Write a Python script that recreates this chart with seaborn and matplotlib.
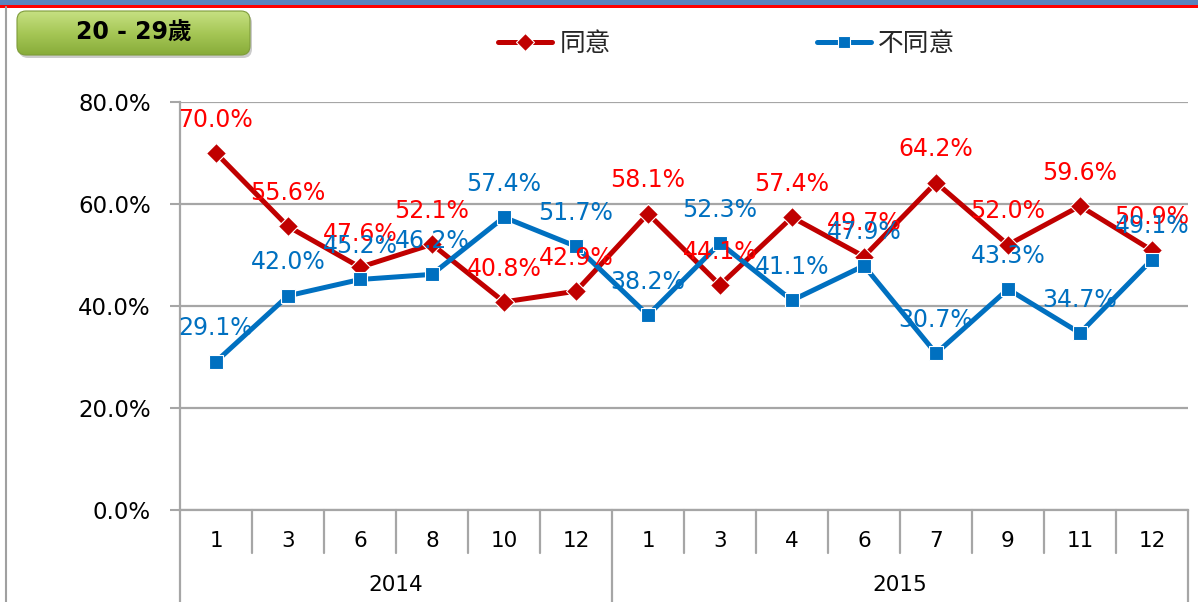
import numpy as np
import pandas as pd
import matplotlib
matplotlib.use("Agg")
import matplotlib.pyplot as plt
from matplotlib.patches import FancyBboxPatch, Rectangle
from matplotlib.lines import Line2D
import matplotlib.transforms as mtransforms
import seaborn as sns

# ---- data -------------------------------------------------------------
months = ["1", "3", "6", "8", "10", "12", "1", "3", "4", "6", "7", "9", "11", "12"]
years = ["2014", "2015"]
year_counts = [6, 8]
agree = [70.0, 55.6, 47.6, 52.1, 40.8, 42.9, 58.1, 44.1, 57.4, 49.7, 64.2, 52.0, 59.6, 50.9]
disagree = [29.1, 42.0, 45.2, 46.2, 57.4, 51.7, 38.2, 52.3, 41.1, 47.9, 30.7, 43.3, 34.7, 49.1]
series_names = ["同意", "不同意"]
y_ticks = [0, 20, 40, 60, 80]
title = "20 - 29歲"

# ---- style ------------------------------------------------------------
sns.set_theme(style="white")
plt.rcParams["font.family"] = ["DejaVu Sans", "Noto Sans CJK TC"]

line_colors = {"同意": "#C00000", "不同意": "#0070C0"}
label_colors = {"同意": "#FF0000", "不同意": "#0070C0"}
grid_gray = "#A6A6A6"

W, H = 1198, 602
fig = plt.figure(figsize=(W / 100, H / 100), dpi=100)
fig.patch.set_facecolor("white")

# plot area in pixels: x 180..1188, y 102..510
L, R, T, B = 180, 1188, 102, 510
ax = fig.add_axes([L / W, 1 - B / H, (R - L) / W, (B - T) / H])

n = len(months)
idx = np.arange(n)
df = pd.DataFrame({
    "idx": np.concatenate([idx, idx]),
    "value": agree + disagree,
    "series": [series_names[0]] * n + [series_names[1]] * n,
})

sns.lineplot(
    data=df, x="idx", y="value", hue="series", style="series",
    hue_order=series_names, style_order=series_names,
    palette=line_colors, markers={"同意": "D", "不同意": "s"}, dashes=False,
    linewidth=3.6, markersize=10.5, markeredgewidth=0.8, sort=False, ax=ax,
)
handles, labels = ax.get_legend_handles_labels()
ax.get_legend().remove()

ax.set_xlim(-0.5, n - 0.5)
ax.set_ylim(0, 80)
ax.set_yticks(y_ticks)
ax.set_yticklabels([f"{v:.1f}%" for v in y_ticks], fontsize=16.5, color="black")
ax.set_xticks([])
ax.set_xlabel("")
ax.set_ylabel("")
ax.tick_params(axis="y", length=7, width=1.5, color=grid_gray, pad=14, left=True)

ax.grid(axis="y", color=grid_gray, linewidth=1.6)
ax.set_axisbelow(True)
for side in ["top", "right"]:
    ax.spines[side].set_visible(False)
for side in ["left", "bottom"]:
    ax.spines[side].set_color(grid_gray)
    ax.spines[side].set_linewidth(1.6)

# ---- data labels ------------------------------------------------------
for name, vals in zip(series_names, [agree, disagree]):
    for i, v in enumerate(vals):
        ax.annotate(f"{v:.1f}%", xy=(i, v), xytext=(0, 24), textcoords="offset points",
                    ha="center", va="center", fontsize=17, color=label_colors[name],
                    zorder=5)

# ---- two-level category axis -------------------------------------------
trans = mtransforms.blended_transform_factory(ax.transData, ax.transAxes)
h_px = B - T
short_y = -43 / h_px
long_y = -92 / h_px
group_edges = np.cumsum([0] + year_counts) - 0.5
for b in np.arange(n + 1) - 0.5:
    y_end = long_y if np.any(np.isclose(b, group_edges)) else short_y
    ax.add_line(Line2D([b, b], [0, y_end], transform=trans, color=grid_gray,
                       linewidth=1.6, clip_on=False))
for i, m in enumerate(months):
    ax.text(i, -31 / h_px, m, transform=trans, ha="center", va="center",
            fontsize=15.5, color="black")
for k, yr in enumerate(years):
    center = (group_edges[k] + group_edges[k + 1]) / 2
    ax.text(center, -75 / h_px, yr, transform=trans, ha="center", va="center",
            fontsize=15.5, color="black")

# ---- legend -----------------------------------------------------------
for hd in handles:
    hd.set_linewidth(3.6)
    hd.set_markersize(9)
fig.legend(handles, labels, loc="center left", bbox_to_anchor=(498 / W, 1 - 44 / H),
           ncol=2, frameon=False, handlelength=2.1, handletextpad=0.3,
           columnspacing=8.0, borderpad=0, borderaxespad=0,
           prop={"family": ["Noto Sans CJK TC"], "size": 18.5})

# ---- frame decorations ------------------------------------------------
deco = fig.add_axes([0, 0, 1, 1], zorder=-1)
deco.set_xlim(0, W)
deco.set_ylim(H, 0)
deco.axis("off")
deco.add_patch(Rectangle((0, 0), W, 5, color="#5A84BE", lw=0))
deco.add_patch(Rectangle((0, 5), W, 2.5, color="#FF0000", lw=0))
deco.add_line(Line2D([6, 6], [7, H], color="#A0A0A0", linewidth=1.5))

# ---- title badge --------------------------------------------------------
bx, by, bw, bh = 12, 8, 245, 54
badge = fig.add_axes([bx / W, 1 - (by + bh) / H, bw / W, bh / H], zorder=3)
badge.set_xlim(0, bw)
badge.set_ylim(bh, 0)
badge.axis("off")
shadow = FancyBboxPatch((7, 6), 233, 44, boxstyle="round,pad=0,rounding_size=9",
                        facecolor="#8C8C8C", edgecolor="none", alpha=0.45)
badge.add_patch(shadow)
box = FancyBboxPatch((5, 3), 233, 44, boxstyle="round,pad=0,rounding_size=9",
                     facecolor="none", edgecolor="#7E9C3A", linewidth=0.8, zorder=3)
badge.add_patch(box)
grad = np.linspace(0, 1, 64).reshape(-1, 1)
cmap = matplotlib.colors.LinearSegmentedColormap.from_list(
    "badge", ["#C6E082", "#A6C756", "#88AC3A"])
img = badge.imshow(grad, extent=(5, 238, 47, 3), cmap=cmap, aspect="auto",
                   interpolation="bicubic", zorder=2)
img.set_clip_path(box)
badge.set_xlim(0, bw)
badge.set_ylim(bh, 0)
badge.text(5 + 233 / 2, 3 + 22, title, ha="center", va="center", fontsize=17,
           fontweight="bold", color="black", zorder=4,
           family=["DejaVu Sans", "Noto Sans CJK TC"])

fig.savefig("out.png", dpi=100, facecolor="white")
